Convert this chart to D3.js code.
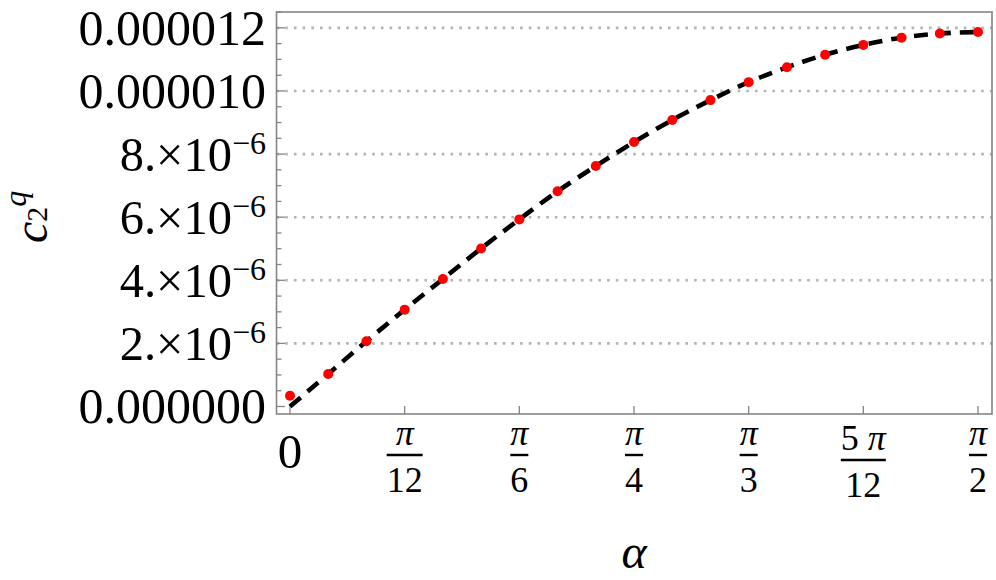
<!DOCTYPE html>
<html>
<head>
<meta charset="utf-8">
<script src="https://cdn.jsdelivr.net/npm/d3@7"></script>
<style>
  body { margin: 0; background: #fff; }
  svg { display: block; }
</style>
</head>
<body>
<script>
// alpha in degrees (0 .. 90, step 5)
var alphaDeg = [0, 5, 10, 15, 20, 25, 30, 35, 40, 45, 50, 55, 60, 65, 70, 75, 80, 85, 90];
// red dots, in units of 1e-6
var pointVals = [0.34, 1.03, 2.07, 3.07, 4.04, 5.01, 5.93, 6.82, 7.62, 8.38, 9.08, 9.71, 10.28, 10.75, 11.15, 11.46, 11.69, 11.82, 11.87];
// dashed curve, in units of 1e-6
var curveVals = [0.0, 1.03, 2.07, 3.07, 4.04, 5.01, 5.93, 6.82, 7.62, 8.38, 9.08, 9.71, 10.28, 10.75, 11.15, 11.46, 11.69, 11.82, 11.87];

var xTickDeg = [0, 15, 30, 45, 60, 75, 90];
var xTickNum = ["0", "π", "π", "π", "π", "5 π", "π"];
var xTickDen = [null, "12", "6", "4", "3", "12", "2"];

var yTicks = [0, 2, 4, 6, 8, 10, 12];
var yTickMain = ["0.000000", "2.×10", "4.×10", "6.×10", "8.×10", "0.000010", "0.000012"];
var yTickExp = [null, "−6", "−6", "−6", "−6", null, null];
var yMinor = d3.range(0, 12.51, 0.5);

var W = 996, H = 580;
var pl = 276.5, pr = 992, pt = 12, pb = 414;
var serif = "'Liberation Serif', 'Times New Roman', Tinos, 'DejaVu Serif', serif";

var x = d3.scaleLinear().domain([-1.766, 91.83]).range([pl, pr]);
var y = d3.scaleLinear().domain([-0.238, 12.503]).range([pb, pt]);

var svg = d3.select("body").append("svg")
    .attr("width", W)
    .attr("height", H)
    .attr("font-family", serif);

// grid
svg.append("g")
    .selectAll("line")
    .data(yTicks.filter(function(d) { return d > 0; }))
  .enter().append("line")
    .attr("x1", pl).attr("x2", pr)
    .attr("y1", function(d) { return y(d); })
    .attr("y2", function(d) { return y(d); })
    .attr("stroke", "#b4b4b4")
    .attr("stroke-width", 2.6)
    .attr("stroke-dasharray", "2.6,6.1");

// frame
svg.append("rect")
    .attr("x", pl).attr("y", pt)
    .attr("width", pr - pl).attr("height", pb - pt)
    .attr("fill", "none")
    .attr("stroke", "#858585")
    .attr("stroke-width", 1.6);

// y ticks
svg.append("g")
    .selectAll("line")
    .data(yMinor)
  .enter().append("line")
    .attr("x1", pl)
    .attr("x2", function(d) { return pl + (d % 2 === 0 ? 8.5 : 5); })
    .attr("y1", function(d) { return y(d); })
    .attr("y2", function(d) { return y(d); })
    .attr("stroke", "#858585")
    .attr("stroke-width", 1.3);

// x ticks
svg.append("g")
    .selectAll("line")
    .data(xTickDeg)
  .enter().append("line")
    .attr("x1", function(d) { return x(d); })
    .attr("x2", function(d) { return x(d); })
    .attr("y1", pb)
    .attr("y2", pb - 8)
    .attr("stroke", "#858585")
    .attr("stroke-width", 1.3);

// y tick labels
var yl = svg.append("g")
    .selectAll("text")
    .data(yTicks)
  .enter().append("text")
    .attr("x", 266)
    .attr("y", function(d) { return y(d) + 17; })
    .attr("text-anchor", "end")
    .attr("font-size", function(d, i) { return yTickExp[i] ? 48.5 : 50; });
yl.append("tspan").text(function(d, i) { return yTickMain[i]; });
yl.filter(function(d, i) { return yTickExp[i]; })
  .append("tspan")
    .attr("dy", -17)
    .attr("font-size", 32)
    .text(function(d) { return yTickExp[yTicks.indexOf(d)]; });

// x tick labels
var xl = svg.append("g")
    .selectAll("g")
    .data(xTickDeg)
  .enter().append("g")
    .attr("transform", function(d, i) {
      var shift = /\d/.test(xTickNum[i]) && xTickDen[i] ? 5 : 0;
      return "translate(" + x(d) + "," + shift + ")";
    });

xl.each(function(d, i) {
  var g = d3.select(this);
  if (!xTickDen[i]) {
    g.append("text")
      .attr("x", 0).attr("y", 468)
      .attr("text-anchor", "middle")
      .attr("font-size", 49)
      .text(xTickNum[i]);
    return;
  }
  var num = g.append("text")
    .attr("x", 0).attr("y", 445)
    .attr("text-anchor", "middle")
    .attr("font-size", 36);
  var parts = xTickNum[i].split(" ");
  if (parts.length > 1) {
    num.append("tspan").text(parts[0] + " ");
    num.append("tspan").attr("font-style", "italic").text(parts[1]);
  } else {
    num.append("tspan").attr("font-style", "italic").text(parts[0]);
  }
  var den = g.append("text")
    .attr("x", 0).attr("y", 492)
    .attr("text-anchor", "middle")
    .attr("font-size", 36)
    .text(xTickDen[i]);
  var w = Math.max(num.node().getComputedTextLength(), den.node().getComputedTextLength());
  g.append("line")
    .attr("x1", -w / 2).attr("x2", w / 2)
    .attr("y1", 455).attr("y2", 455)
    .attr("stroke", "#000")
    .attr("stroke-width", 2.4);
});

// dashed curve
var line = d3.line()
    .x(function(d, i) { return x(alphaDeg[i]); })
    .y(function(d) { return y(d); })
    .curve(d3.curveMonotoneX);

svg.append("path")
    .datum(curveVals)
    .attr("d", line)
    .attr("fill", "none")
    .attr("stroke", "#000")
    .attr("stroke-width", 4.6)
    .attr("stroke-dasharray", "14,9");

// points
svg.append("g")
    .selectAll("circle")
    .data(pointVals)
  .enter().append("circle")
    .attr("cx", function(d, i) { return x(alphaDeg[i]); })
    .attr("cy", function(d) { return y(d); })
    .attr("r", 5)
    .attr("fill", "#ff0000");

// axis labels
svg.append("text")
    .attr("x", 634).attr("y", 568)
    .attr("text-anchor", "middle")
    .attr("font-size", 48)
    .attr("font-style", "italic")
    .text("α");

var yt = svg.append("text")
    .attr("transform", "translate(47,243) rotate(-90)")
    .attr("font-size", 48);
yt.append("tspan").attr("font-style", "italic").text("c");
yt.append("tspan").attr("font-size", 30).text("2");
yt.append("tspan").attr("dy", -21).attr("font-size", 32).attr("font-style", "italic").text("q");
</script>
</body>
</html>
